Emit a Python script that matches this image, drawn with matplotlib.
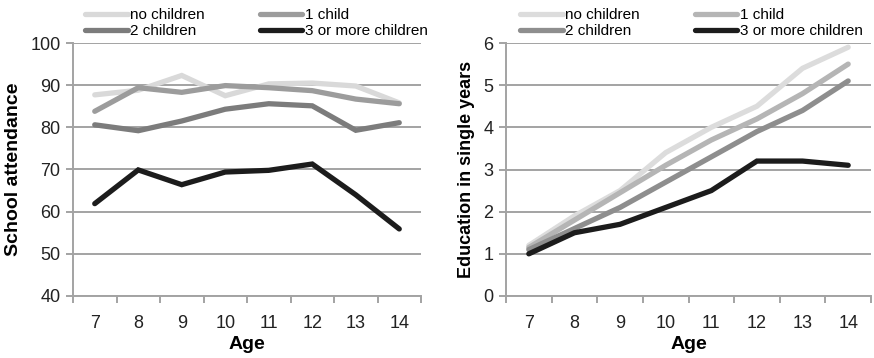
import matplotlib
matplotlib.use('Agg')
import matplotlib.pyplot as plt
from matplotlib.ticker import FixedLocator

plt.rcParams['font.family'] = ['Liberation Sans', 'DejaVu Sans']

# Data
ages = [7, 8, 9, 10, 11, 12, 13, 14]
labels = ['no children', '1 child', '2 children', '3 or more children']

attend_none = [87.7, 88.8, 92.3, 87.5, 90.3, 90.5, 89.8, 85.8]
attend_one = [83.8, 89.4, 88.3, 89.9, 89.4, 88.7, 86.7, 85.6]
attend_two = [80.6, 79.2, 81.5, 84.3, 85.6, 85.1, 79.3, 81.1]
attend_three = [61.9, 69.9, 66.4, 69.4, 69.8, 71.3, 64.0, 55.9]

edu_none = [1.2, 1.9, 2.5, 3.4, 4.0, 4.5, 5.4, 5.9]
edu_one = [1.15, 1.8, 2.45, 3.1, 3.7, 4.2, 4.8, 5.5]
edu_two = [1.1, 1.6, 2.1, 2.7, 3.3, 3.9, 4.4, 5.1]
edu_three = [1.0, 1.5, 1.7, 2.1, 2.5, 3.2, 3.2, 3.1]

left_colors = ['#d9d9d9', '#9c9c9c', '#7c7c7c', '#1c1c1c']
right_colors = ['#dcdcdc', '#b5b5b5', '#8e8e8e', '#1c1c1c']
grid_color = '#a3a3a3'

fig = plt.figure(figsize=(8.74, 3.58), dpi=100)
ax1 = fig.add_axes([73 / 874, 62 / 358, 348 / 874, 253 / 358])
ax2 = fig.add_axes([506 / 874, 62 / 358, 365 / 874, 253 / 358])


def draw_panel(ax, series, colors, ylim, yticks, ylabel, ylabel_size, legend_x):
    x = list(range(len(ages)))
    lines = []
    for vals, col, lab in zip(series, colors, labels):
        ln, = ax.plot(x, vals, color=col, lw=3.8, label=lab,
                      solid_capstyle='round', solid_joinstyle='miter')
        lines.append(ln)
    ax.set_xlim(-0.5, len(ages) - 0.5)
    ax.set_ylim(*ylim)
    ax.set_yticks(yticks)
    ax.yaxis.grid(True, color=grid_color, lw=1.4)
    ax.set_axisbelow(True)
    for s in ['top', 'right']:
        ax.spines[s].set_visible(False)
    for s in ['left', 'bottom']:
        ax.spines[s].set_color(grid_color)
        ax.spines[s].set_linewidth(1.4)
    # category labels at centres, tick marks at boundaries
    ax.set_xticks(x)
    ax.set_xticklabels([str(a) for a in ages])
    ax.xaxis.set_minor_locator(FixedLocator([i - 0.5 for i in range(len(ages) + 1)]))
    ax.tick_params(axis='x', which='major', length=0, labelsize=13,
                   pad=14, colors='#222222')
    ax.tick_params(axis='x', which='minor', length=5, width=1.4, color=grid_color)
    ax.tick_params(axis='y', length=5, width=1.4, color=grid_color,
                   labelsize=13, labelcolor='#222222', pad=4)
    ax.set_xlabel('Age', fontsize=14, fontweight='bold', labelpad=2.5)
    ax.set_ylabel(ylabel, fontsize=ylabel_size, fontweight='bold', labelpad=6)
    order = [0, 2, 1, 3]
    ax.legend([lines[i] for i in order], [labels[i] for i in order],
              ncol=2, frameon=False, loc='lower left',
              bbox_to_anchor=(legend_x, 1.02), fontsize=11,
              handlelength=2.8, handletextpad=0.15, columnspacing=3.6,
              labelspacing=0.1, borderaxespad=0, borderpad=0)


draw_panel(ax1, [attend_none, attend_one, attend_two, attend_three], left_colors,
           (40, 100), [40, 50, 60, 70, 80, 90, 100], 'School attendance', 14, 0.034)
draw_panel(ax2, [edu_none, edu_one, edu_two, edu_three], right_colors,
           (0, 6), [0, 1, 2, 3, 4, 5, 6], 'Education in single years', 13, 0.038)

fig.savefig('out.png', dpi=100)
